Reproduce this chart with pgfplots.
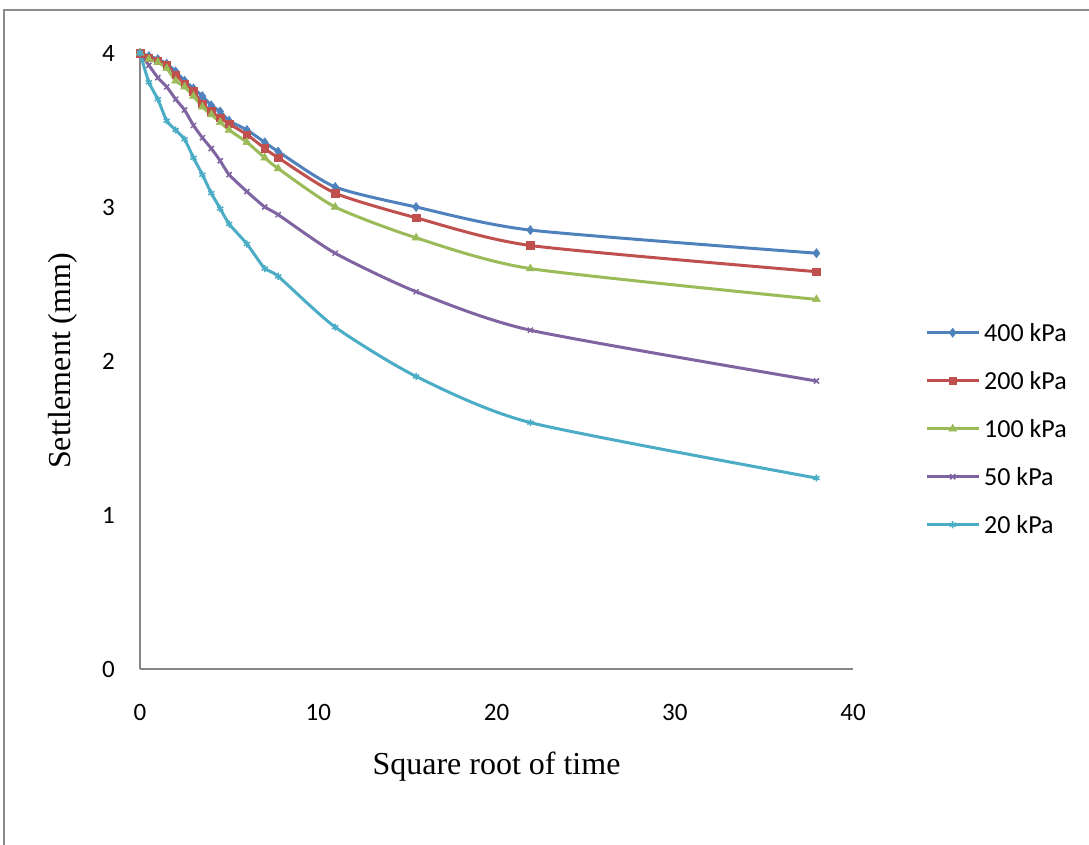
\documentclass[border=0pt]{standalone}
\usepackage{pgfplots}
\pgfplotsset{compat=1.18}
\usepackage{fontspec}
\setmainfont{Carlito}
\newfontfamily\tnr{Liberation Serif}
\definecolor{cA}{HTML}{4F81BD}
\definecolor{cB}{HTML}{C0504D}
\definecolor{cC}{HTML}{9BBB59}
\definecolor{cD}{HTML}{8064A2}
\definecolor{cE}{HTML}{4BACC6}
\definecolor{axgray}{HTML}{868686}
\definecolor{framegray}{HTML}{8C8C8C}
\begin{document}
\begin{tikzpicture}[x=1pt,y=1pt]
\useasboundingbox (-140,-175) rectangle (949,669);
\draw[framegray, line width=1.5pt] (-136,-185) -- (-136,659) -- (960,659);
\begin{axis}[
  scale only axis, width=713pt, height=616pt,
  xmin=0, xmax=40, ymin=0, ymax=4,
  axis lines=left,
  axis line style={draw=axgray, line width=1.5pt, -},
  xtick={0,10,20,30,40}, ytick={0,1,2,3,4},
  major tick length=0pt,
  /pgf/number format/assume math mode=true,
  tick label style={font=\fontsize{25}{30}\selectfont, inner sep=0pt},
  xticklabel shift=35pt,
  yticklabel shift=25pt,
  xlabel={\tnr Square root of time},
  ylabel={\tnr Settlement (mm)},
  xlabel style={font=\fontsize{32}{38}\selectfont, at={(axis description cs:0.5,-0.159)}, anchor=center},
  ylabel style={font=\fontsize{32}{38}\selectfont, at={(axis description cs:-0.108,0.5)}, anchor=center},
  legend style={draw=none, fill=none, at={(axis description cs:1.101,0.39)}, anchor=west,
    inner sep=0pt, row sep=31pt, column sep=4pt,
    nodes={inner sep=0pt, text height=17pt, text depth=0pt, font=\fontsize{26}{31}\selectfont}},
  legend cell align=left,
  legend image code/.code={\draw[mark repeat=2,mark phase=2] plot coordinates {(0pt,0pt) (26pt,0pt) (52pt,0pt)};},
  every axis plot/.append style={line width=3pt, smooth, tension=0.4},
]
\addplot[cA, mark=diamond*, mark size=4.6pt, mark options={solid, line width=0.5pt}] coordinates {
(0,4.00) (0.5,3.98) (1,3.96) (1.5,3.93) (2,3.88) (2.5,3.82) (3,3.77) (3.5,3.72) (4,3.66) (4.5,3.62) (5,3.56) (6,3.50) (7,3.42) (7.75,3.36) (10.95,3.13) (15.49,3.00) (21.9,2.85) (37.95,2.70)};
\addlegendentry{400 kPa}
\addplot[cB, mark=square*, mark size=3.8pt, mark options={solid, line width=0.5pt}] coordinates {
(0,4.00) (0.5,3.97) (1,3.95) (1.5,3.92) (2,3.86) (2.5,3.80) (3,3.75) (3.5,3.67) (4,3.62) (4.5,3.58) (5,3.54) (6,3.47) (7,3.38) (7.75,3.32) (10.95,3.09) (15.49,2.93) (21.9,2.75) (37.95,2.58)};
\addlegendentry{200 kPa}
\addplot[cC, mark=triangle*, mark size=4.6pt, mark options={solid, line width=0.5pt}] coordinates {
(0,4.00) (0.5,3.96) (1,3.94) (1.5,3.90) (2,3.82) (2.5,3.78) (3,3.72) (3.5,3.65) (4,3.60) (4.5,3.55) (5,3.50) (6,3.42) (7,3.32) (7.75,3.25) (10.95,3.00) (15.49,2.80) (21.9,2.60) (37.95,2.40)};
\addlegendentry{100 kPa}
\addplot[cD, mark=x, mark size=3.6pt, mark options={solid, line width=1.5pt}] coordinates {
(0,4.00) (0.5,3.92) (1,3.84) (1.5,3.78) (2,3.70) (2.5,3.63) (3,3.53) (3.5,3.45) (4,3.38) (4.5,3.30) (5,3.21) (6,3.10) (7,3.00) (7.75,2.95) (10.95,2.70) (15.49,2.45) (21.9,2.20) (37.95,1.87)};
\addlegendentry{50 kPa}
\addplot[cE, mark=asterisk, mark size=3.6pt, mark options={solid, line width=1.5pt}] coordinates {
(0,4.00) (0.5,3.81) (1,3.70) (1.5,3.56) (2,3.50) (2.5,3.44) (3,3.32) (3.5,3.21) (4,3.09) (4.5,2.99) (5,2.89) (6,2.76) (7,2.60) (7.75,2.55) (10.95,2.22) (15.49,1.90) (21.9,1.60) (37.95,1.24)};
\addlegendentry{20 kPa}
\end{axis}
\end{tikzpicture}
\end{document}
